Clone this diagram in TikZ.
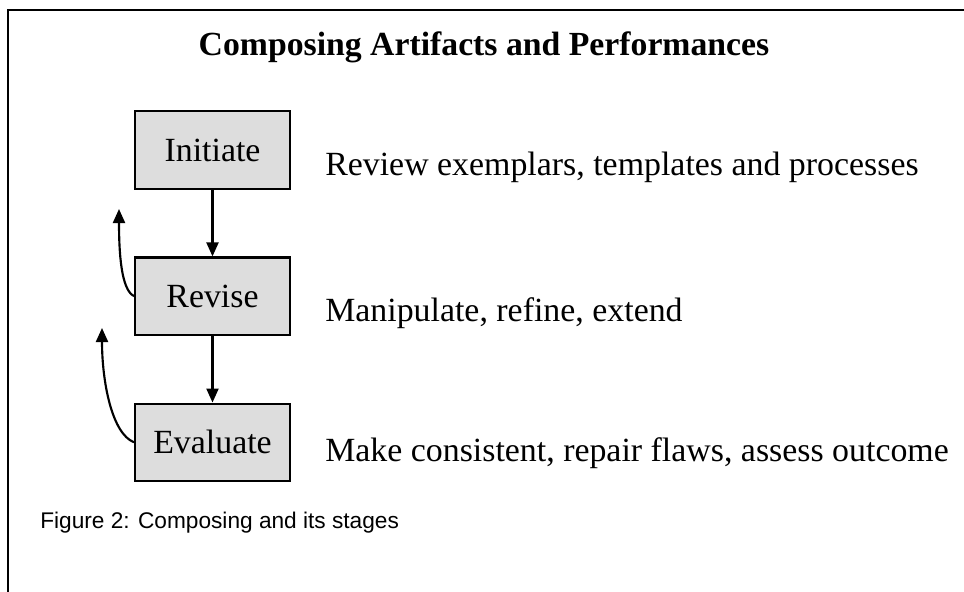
\documentclass[tikz,border=0pt]{standalone}
\usepackage{fontspec}
\setmainfont{Liberation Serif}
\newfontfamily\capfont{Liberation Sans}
\usepackage{tikz}
\usetikzlibrary{arrows.meta,positioning}

\tikzset{
  stage/.style={draw, line width=1.6pt, fill=gray!27, minimum width=116pt, minimum height=58pt, inner sep=0pt, font=\fontsize{25.4}{30}\selectfont},
  desc/.style={anchor=base west, inner sep=0pt, font=\fontsize{25.4}{30}\selectfont},
  flow/.style={line width=1.6pt, -{Triangle[length=10.5pt,width=9pt]}},
}

\begin{document}
\begin{tikzpicture}[x=0.75pt, y=-0.75pt, node distance=50pt]
  \useasboundingbox (0,0) rectangle (964,592);
  % frame, only top and left edge
  \draw[line width=1.5pt] (8,592) -- (8,10) -- (964,10);

  \node[anchor=base, inner sep=0pt, font=\fontsize{25.3}{30}\selectfont\bfseries] (title) at (484,56) {Composing Artifacts and Performances};

  \node[stage] (init) at (212.5,150) {Initiate};
  \node[stage, below=of init] (rev) {Revise};
  \node[stage, below=of rev] (eval) {Evaluate};

  \draw[flow] (init) -- (rev);
  \draw[flow] (rev) -- (eval);

  % loops back up
  \coordinate (up1) at (119,209);
  \coordinate (up2) at (102,328);
  \draw[flow] (rev.west) .. controls (121,290) and (119,252) .. (up1);
  \draw[flow] (eval.west) .. controls (112,434) and (102,382) .. (up2);

  \node[desc] (d1) at (325,175) {Review exemplars, templates and processes};
  \node[desc] (d2) at (325,321) {Manipulate, refine, extend};
  \node[desc] (d3) at (325,461) {Make consistent, repair flaws, assess outcome};

  \node[anchor=base west, inner sep=0pt, font=\capfont\fontsize{17}{20}\selectfont] (cap) at (40,528) {Figure 2: Composing and its stages};
\end{tikzpicture}
\end{document}
